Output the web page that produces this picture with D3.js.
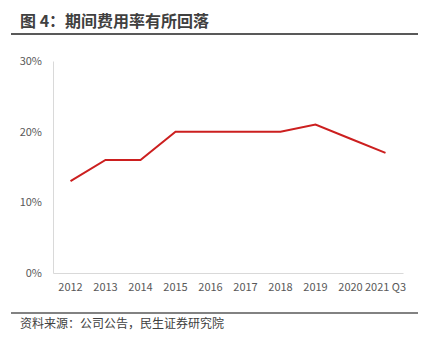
<!DOCTYPE html>
<html>
<head>
<meta charset="utf-8">
<script src="https://cdn.jsdelivr.net/npm/d3@7"></script>
<style>
  html, body { margin: 0; padding: 0; background: #fff; }
  svg { display: block; }
</style>
</head>
<body>
<svg id="chart" width="430" height="349"></svg>
<script>
// Period expense ratio by year
const categories = ["2012", "2013", "2014", "2015", "2016", "2017", "2018", "2019", "2020", "2021 Q3"];
const expenseRatio = [0.13, 0.16, 0.16, 0.20, 0.20, 0.20, 0.20, 0.21, 0.19, 0.17];
const yTicks = [0, 0.10, 0.20, 0.30];

const titleText = "图 4：期间费用率有所回落";
const sourceText = "资料来源：公司公告，民生证券研究院";

const svg = d3.select("#chart");
const font = "'Microsoft YaHei', 'Noto Sans CJK SC', sans-serif";

const plot = { left: 53, right: 403, top: 61, bottom: 273 };

const x = d3.scaleBand().domain(categories).range([plot.left, plot.right]);
const y = d3.scaleLinear().domain([0, 0.30]).range([plot.bottom, plot.top]);

// Title and top rule
svg.append("text")
  .attr("x", 20).attr("y", 27)
  .attr("font-family", font).attr("font-size", 16).attr("font-weight", "bold")
  .attr("fill", "#404040")
  .text(titleText);
svg.append("line")
  .attr("x1", 11).attr("x2", 418).attr("y1", 34).attr("y2", 34)
  .attr("stroke", "#595959").attr("stroke-width", 2);

// Y axis
const yAxis = svg.append("g")
  .attr("transform", `translate(${plot.left},0)`)
  .call(d3.axisLeft(y).tickValues(yTicks).tickFormat(d3.format(".0%")).tickSize(0).tickPadding(11));
yAxis.select(".domain").attr("stroke", "#d9d9d9");
yAxis.selectAll("text").attr("font-family", font).attr("font-size", 11).attr("fill", "#595959");

// X axis
const xAxis = svg.append("g")
  .attr("transform", `translate(0,${plot.bottom})`)
  .call(d3.axisBottom(x).tickSize(0).tickPadding(10));
xAxis.select(".domain").attr("stroke", "#d9d9d9");
xAxis.selectAll("text").attr("font-family", font).attr("font-size", 11).attr("fill", "#595959");

// Line
const line = d3.line()
  .x((d, i) => x(categories[i]) + x.bandwidth() / 2)
  .y(d => y(d));
svg.append("path")
  .datum(expenseRatio)
  .attr("d", line)
  .attr("fill", "none")
  .attr("stroke", "#cc1f1f")
  .attr("stroke-width", 2);

// Bottom rule and source note
svg.append("line")
  .attr("x1", 11).attr("x2", 418).attr("y1", 313).attr("y2", 313)
  .attr("stroke", "#595959").attr("stroke-width", 1.5);
svg.append("text")
  .attr("x", 20).attr("y", 328)
  .attr("font-family", font).attr("font-size", 12)
  .attr("fill", "#404040")
  .text(sourceText);
</script>
</body>
</html>
